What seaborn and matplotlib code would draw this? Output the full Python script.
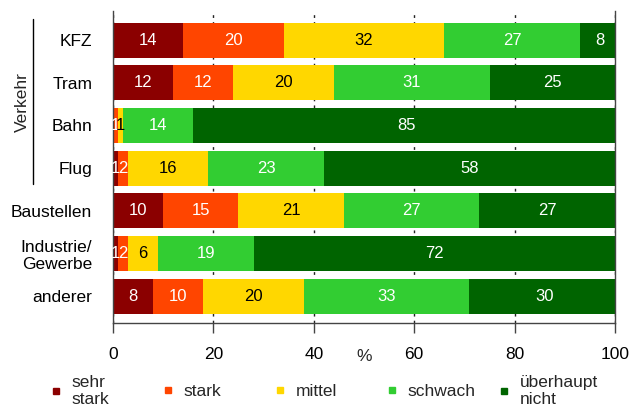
import numpy as np
import pandas as pd
import seaborn as sns
import matplotlib.pyplot as plt
from matplotlib.lines import Line2D

quellen = ["KFZ", "Tram", "Bahn", "Flug", "Baustellen", "Industrie/\nGewerbe", "anderer"]
stufen = ["sehr\nstark", "stark", "mittel", "schwach", "überhaupt\nnicht"]
sehr_stark = [14, 12, 0, 1, 10, 1, 8]
stark = [20, 12, 1, 2, 15, 2, 10]
mittel = [32, 20, 1, 16, 21, 6, 20]
schwach = [27, 31, 14, 23, 27, 19, 33]
gar_nicht = [8, 25, 85, 58, 27, 72, 30]
x_ticks = [0, 20, 40, 60, 80, 100]

farben = ["#8b0000", "#ff4500", "#ffd700", "#32cd32", "#006400"]
textfarben = ["white", "white", "black", "white", "white"]

sns.set_theme(style="white")
plt.rcParams["font.family"] = ["Liberation Sans", "DejaVu Sans"]

werte = np.array([sehr_stark, stark, mittel, schwach, gar_nicht])
kumuliert = werte.cumsum(axis=0)

fig = plt.figure(figsize=(6.33, 4.08), dpi=100)
ax = fig.add_axes([0.1785, 0.2083, 0.7931, 0.7647])

# gestapelt: die langen kumulierten Balken zuerst, dann drüber
for i in range(len(stufen) - 1, -1, -1):
    df = pd.DataFrame({"quelle": quellen, "wert": kumuliert[i]})
    sns.barplot(data=df, x="wert", y="quelle", color=farben[i], width=0.82,
                saturation=1, linewidth=0, orient="h", ax=ax)

for i in range(len(stufen)):
    for j in range(len(quellen)):
        v = werte[i, j]
        if v > 0:
            ax.text(kumuliert[i, j] - v / 2, j, str(v), ha="center", va="center",
                    color=textfarben[i], fontsize=12)

ax.set_xlim(0, 100)
ax.set_ylim(6.63, -0.68)
ax.set_xticks(x_ticks)
ax.set_xlabel("")
ax.set_ylabel("")
ax.set_axisbelow(True)
ax.xaxis.grid(True, linestyle=(0, (2, 3)), color="#222222", linewidth=1)

ax.spines["top"].set_visible(False)
for s in ["left", "right", "bottom"]:
    ax.spines[s].set_color("#444444")
    ax.spines[s].set_linewidth(1)

ax.tick_params(axis="x", bottom=True, length=7, width=1, color="#444444",
               pad=10, labelsize=12.5, labelcolor="black")
ax.tick_params(axis="y", left=False, length=0, pad=15, labelsize=12.5,
               labelcolor="black")

ax.text(50, -0.106, "%", transform=ax.get_xaxis_transform(), ha="center",
        va="center", fontsize=12.5)

# Gruppe Verkehr
fig.text(22 / 633, 1 - 102 / 408, "Verkehr", rotation=90, ha="center",
         va="center", fontsize=12.5)
fig.add_artist(Line2D([33 / 633, 33 / 633], [1 - 19 / 408, 1 - 184 / 408],
                      color="black", linewidth=1))

# Legende mit festen Abständen
for k, (stufe, farbe) in enumerate(zip(stufen, farben)):
    griff = Line2D([], [], marker="s", linestyle="none", markersize=5,
                   color=farbe)
    fig.legend([griff], [stufe], loc="center left",
               bbox_to_anchor=((49 + 112 * k) / 633, 1 - 391 / 408),
               frameon=False, fontsize=12.5, handlelength=0.8,
               handletextpad=0.52, borderpad=0, borderaxespad=0,
               labelspacing=0.1)

fig.savefig("out.png", dpi=100)
